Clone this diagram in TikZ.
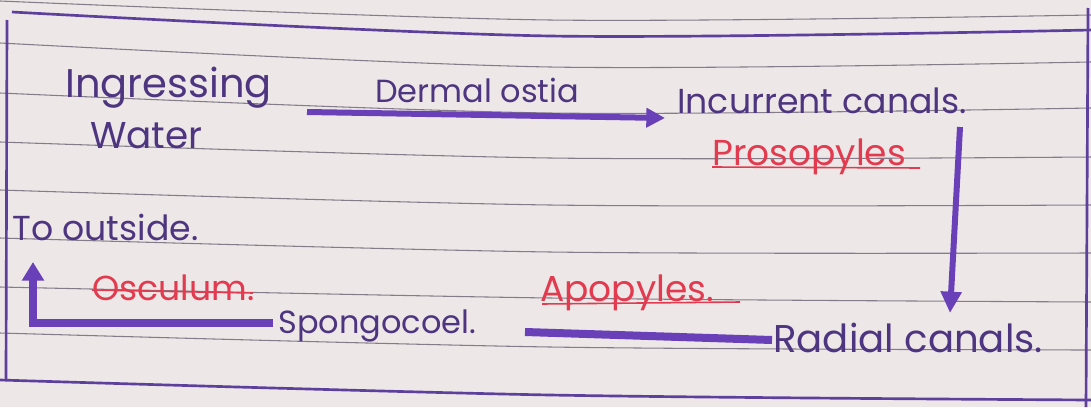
\documentclass[tikz,border=0pt]{standalone}
\usepackage{fontspec}
\setmainfont{Poppins}
\usetikzlibrary{arrows.meta,calc}

\definecolor{paper}{HTML}{EDE7E7}
\definecolor{rulegray}{HTML}{857C8A}
\definecolor{framepurple}{HTML}{5D3F9C}
\definecolor{inkpurple}{HTML}{4E3580}
\definecolor{markerpurple}{HTML}{6A40B8}
\definecolor{redpen}{HTML}{E23A4E}

\begin{document}
\begin{tikzpicture}[x=0.75pt,y=-0.75pt,
    ruled/.style={draw=rulegray,line width=0.8pt},
    frame/.style={draw=framepurple,line width=2pt},
    ink/.style={text=inkpurple,inner sep=0pt,anchor=base west,font=\fontsize{26}{30}\selectfont},
    redink/.style={ink,text=redpen},
    marker/.style={draw=markerpurple,line width=4.5pt},
    thickmarker/.style={draw=markerpurple,line width=6pt},
    flow/.style={marker,-{Triangle[length=14pt,width=14pt]}},
    redline/.style={draw=redpen,line width=1.2pt}]

  % the sheet
  \fill[paper] (0,0) rectangle (1091,407);
  \useasboundingbox (0,0) rectangle (1091,407);

  % ruled lines of the notebook
  \draw[ruled] plot[smooth] coordinates {(0,1) (550,20) (1091,15)};
  \draw[ruled] plot[smooth] coordinates {(0,43) (550,67) (1091,62)};
  \draw[ruled] plot[smooth] coordinates {(0,93) (550,113) (1091,108)};
  \draw[ruled] plot[smooth] coordinates {(0,142) (550,158) (1091,157)};
  \draw[ruled] plot[smooth] coordinates {(0,190) (550,205) (1091,205)};
  \draw[ruled] plot[smooth] coordinates {(0,238) (550,252) (1091,253)};
  \draw[ruled] plot[smooth] coordinates {(0,287) (550,298) (1091,302)};
  \draw[ruled] plot[smooth] coordinates {(0,333) (550,347) (1091,350)};

  % box round the answer
  \draw[frame] plot[smooth] coordinates {(12,12) (550,36) (1091,30)};
  \draw[frame] plot[smooth] coordinates {(0,380) (550,395) (1091,400)};
  \draw[frame] (7,20) -- (6,380);
  \draw[frame] (1088,8) -- (1086,407);

  % stations of the water
  \node[ink,font=\fontsize{30}{34}\selectfont] (ingress) at (65,97) {Ingressing};
  \node[ink,font=\fontsize{28}{32}\selectfont] (water) at (90,148) {Water};
  \node[ink,font=\fontsize{24}{28}\selectfont] (dermal) at (375,102) {Dermal ostia};
  \node[ink] (incurrent) at (677,113) {Incurrent canals.};
  \node[redink,font=\fontsize{27}{31}\selectfont] (prosopyles) at (712,165) {Prosopyles};
  \node[ink,font=\fontsize{29}{33}\selectfont] (radial) at (773,352) {Radial canals.};
  \node[redink,font=\fontsize{27}{31}\selectfont] (apopyles) at (540,301) {Apopyles.};
  \node[ink,font=\fontsize{24}{28}\selectfont] (spongo) at (278,333) {Spongocoel.};
  \node[redink] (osculum) at (92,300) {Osculum.};
  \node[ink] (outside) at (12,240) {To outside.};

  % red underlines
  \draw[redline] ($(prosopyles.base west)+(0,2)$) -- ++(208,1);
  \draw[redline] ($(apopyles.base west)+(2,3)$) -- ++(198,-2);
  \draw[redline] ($(osculum.base west)+(0,-10)$) -- ++(161,3);

  % flow
  \draw[flow] ($(ingress.base west)+(242,15)$) -- ($(incurrent.base west)+(-12,5)$);
  \draw[flow,-{Triangle[length=16pt,width=15pt]}] ($(incurrent.base west)+(283,14)$) -- ($(radial.base west)+(177,-39)$);
  \draw[thickmarker] ($(radial.base west)+(-1,-12)$) -- ($(spongo.base west)+(247,-1)$);
  \draw[thickmarker,-{Triangle[length=14pt,width=16pt]}] ($(spongo.base west)+(-5,-10)$) -| ($(outside.base west)+(21,22)$);
\end{tikzpicture}
\end{document}
